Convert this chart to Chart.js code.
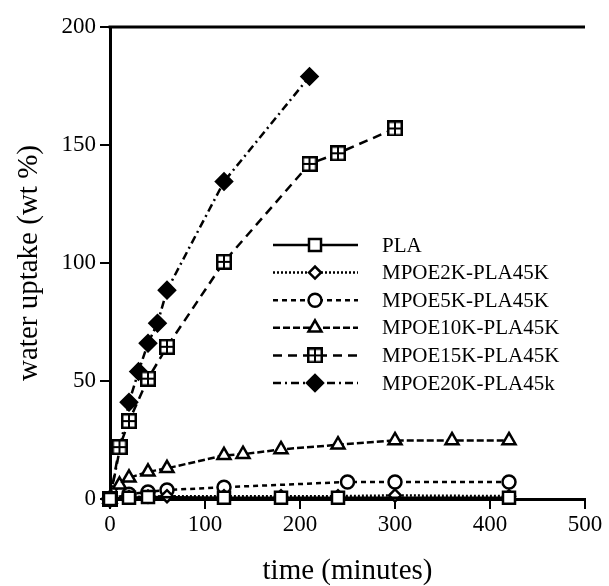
<!DOCTYPE html>
<html>
<head>
<meta charset="utf-8">
<script src="https://cdn.jsdelivr.net/npm/chart.js@4.4.1/dist/chart.umd.min.js"></script>
<style>
    html, body { margin: 0; padding: 0; background: #fff; }
    #wrap { width: 609px; height: 586px; }
</style>
</head>
<body>
<div id="wrap"><canvas id="uptakeChart" width="609" height="586"></canvas></div>
<script>
// Water uptake (wt %) vs time (minutes)
const plaTime = [0, 20, 40, 120, 180, 240, 420];
const plaUptake = [0, 0.5, 0.8, 0.5, 0.5, 0.5, 0.5];

const k2Time = [0, 20, 40, 60, 120, 180, 240, 300, 420];
const k2Uptake = [0, 0.8, 1, 1.2, 1.2, 1.2, 1.2, 1.5, 1.2];

const k5Time = [0, 20, 40, 60, 120, 250, 300, 420];
const k5Uptake = [0, 2, 3, 3.8, 5, 7.2, 7.2, 7.2];

const k10Time = [0, 10, 20, 40, 60, 120, 140, 180, 240, 300, 360, 420];
const k10Uptake = [0, 6, 9, 11.5, 13, 18.5, 19, 21, 23, 24.8, 24.8, 24.8];

const k15Time = [0, 10, 20, 40, 60, 120, 210, 240, 300];
const k15Uptake = [0, 22, 33, 51, 64.5, 100.5, 142, 146.5, 157];

const k20Time = [0, 20, 30, 40, 50, 60, 120, 210];
const k20Uptake = [0, 41, 54, 66, 74.5, 88.5, 134.5, 179];

const xTicks = [0, 100, 200, 300, 400, 500];
const yTicks = [0, 50, 100, 150, 200];

const serif = '"Liberation Serif", "DejaVu Serif", serif';

function toPoints(xs, ys) {
    return xs.map((x, i) => ({ x: x, y: ys[i] }));
}

// square with a cross inside, for MPOE15K
function boxPlus() {
    const c = document.createElement('canvas');
    c.width = 16;
    c.height = 16;
    const g = c.getContext('2d');
    g.fillStyle = '#fff';
    g.fillRect(1, 1, 14, 14);
    g.strokeStyle = '#000';
    g.lineWidth = 2.5;
    g.strokeRect(1.25, 1.25, 13.5, 13.5);
    g.lineWidth = 2;
    g.beginPath();
    g.moveTo(8, 2); g.lineTo(8, 14);
    g.moveTo(2, 8); g.lineTo(14, 8);
    g.stroke();
    return c;
}

function series(label, xs, ys, dash, style, radius, fill) {
    return {
        label: label,
        data: toPoints(xs, ys),
        borderColor: '#000',
        borderWidth: 2.5,
        borderDash: dash,
        pointStyle: style,
        pointRadius: radius,
        pointHoverRadius: radius,
        pointBackgroundColor: fill,
        pointBorderColor: '#000',
        pointBorderWidth: 2.5,
        tension: 0,
        clip: false
    };
}

// legend drawn inside the plot, line sample with marker in the middle
const legendBox = {
    id: 'legendBox',
    afterDatasetsDraw(chart) {
        const ctx = chart.ctx;
        chart.data.datasets.forEach((ds, i) => {
            const y = 245 + i * 27.6;
            ctx.save();
            ctx.strokeStyle = '#000';
            ctx.lineWidth = ds.borderWidth;
            ctx.setLineDash(ds.borderDash || []);
            ctx.beginPath();
            ctx.moveTo(273, y);
            ctx.lineTo(358, y);
            ctx.stroke();
            ctx.setLineDash([]);
            ctx.fillStyle = ds.pointBackgroundColor;
            ctx.lineWidth = ds.pointBorderWidth;
            Chart.helpers.drawPoint(ctx, {
                pointStyle: ds.pointStyle,
                radius: ds.pointRadius,
                rotation: 0,
                borderWidth: ds.pointBorderWidth
            }, 315, y);
            ctx.fillStyle = '#000';
            ctx.font = '21px ' + serif;
            ctx.textBaseline = 'middle';
            ctx.textAlign = 'left';
            ctx.fillText(ds.label, 382, y + 1);
            ctx.restore();
        });
    }
};

// top frame line
const frame = {
    id: 'frame',
    afterDraw(chart) {
        const a = chart.chartArea;
        const ctx = chart.ctx;
        ctx.save();
        ctx.strokeStyle = '#000';
        ctx.lineWidth = 3;
        ctx.beginPath();
        ctx.moveTo(a.left - 1.5, a.top);
        ctx.lineTo(a.right, a.top);
        ctx.stroke();
        ctx.restore();
    }
};

new Chart(document.getElementById('uptakeChart'), {
    type: 'line',
    data: {
        datasets: [
            series('PLA', plaTime, plaUptake, [], 'rect', 8.5, '#fff'),
            series('MPOE2K-PLA45K', k2Time, k2Uptake, [2, 2], 'rectRot', 6, '#fff'),
            series('MPOE5K-PLA45K', k5Time, k5Uptake, [5, 4], 'circle', 6.5, '#fff'),
            series('MPOE10K-PLA45K', k10Time, k10Uptake, [7, 3], 'triangle', 7.5, '#fff'),
            series('MPOE15K-PLA45K', k15Time, k15Uptake, [9, 6], boxPlus(), 8, '#fff'),
            series('MPOE20K-PLA45k', k20Time, k20Uptake, [8, 4, 2, 4], 'rectRot', 8, '#000')
        ]
    },
    options: {
        responsive: false,
        animation: false,
        devicePixelRatio: 1,
        layout: { padding: { top: 27, right: 24, left: 0, bottom: 0 } },
        plugins: {
            legend: { display: false },
            tooltip: { enabled: false }
        },
        scales: {
            x: {
                type: 'linear',
                min: 0,
                max: 500,
                afterFit: s => { s.height = 87; },
                afterBuildTicks: s => { s.ticks = xTicks.map(v => ({ value: v })); },
                ticks: { color: '#000', font: { family: serif, size: 23 }, padding: 2, maxRotation: 0 },
                grid: { drawOnChartArea: false, color: '#000', lineWidth: 2, tickLength: 10 },
                border: { color: '#000', width: 3 },
                title: {
                    display: true,
                    text: 'time (minutes)',
                    color: '#000',
                    font: { family: serif, size: 29, lineHeight: 1 },
                    padding: { top: 0, bottom: 0 }
                }
            },
            y: {
                min: 0,
                max: 200,
                afterFit: s => { s.width = 110; },
                afterBuildTicks: s => { s.ticks = yTicks.map(v => ({ value: v })); },
                ticks: { color: '#000', font: { family: serif, size: 23 }, padding: 4 },
                grid: { drawOnChartArea: false, color: '#000', lineWidth: 2, tickLength: 10 },
                border: { color: '#000', width: 3 },
                title: {
                    display: true,
                    text: 'water uptake (wt %)',
                    color: '#000',
                    font: { family: serif, size: 29, lineHeight: 1.2 },
                    padding: { top: 12, bottom: 0 }
                }
            }
        }
    },
    plugins: [legendBox, frame]
});
</script>
</body>
</html>
